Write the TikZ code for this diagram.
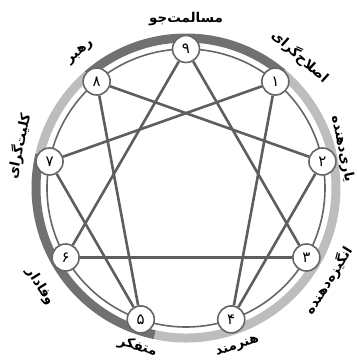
\documentclass[tikz,border=0pt]{standalone}
\usepackage{fontspec}
\newfontfamily\fa[Script=Arabic]{DejaVu Sans}
\TeXXeTstate=1
\definecolor{banddark}{HTML}{717171}
\definecolor{bandlight}{HTML}{BDBDBD}
\definecolor{ringgray}{HTML}{666666}
\definecolor{linegray}{HTML}{5E5E5E}
\begin{document}
\begin{tikzpicture}[x=1pt,y=1pt,
  pt/.style={circle,draw=ringgray,line width=1.6pt,fill=white,minimum size=27pt,inner sep=0pt,font=\fa\fontsize{15}{15}\selectfont},
  lbl/.style={font=\fa\bfseries\fontsize{13.5}{14}\selectfont,inner sep=0pt},
  edge/.style={draw=linegray,line width=2.6pt},
  band/.style={line width=9pt}]
\useasboundingbox (0,0) rectangle (357,360);
\begin{scope}[shift={(186,172)}]
  % outer band
  \draw[band,banddark] (50:150) arc[start angle=50,end angle=131,radius=150];
  \draw[band,bandlight] (131:150) arc[start angle=131,end angle=167,radius=150];
  \draw[band,banddark] (167:150) arc[start angle=167,end angle=258,radius=150];
  \draw[band,bandlight] (258:150) arc[start angle=258,end angle=410,radius=150];
  % thin ring
  \draw[ringgray,line width=1.6pt] (0,0) circle[radius=139];
  % points
  \node[pt] (n9) at (90:139) {۹};
  \node[pt] (n1) at (50:139) {۱};
  \node[pt] (n2) at (11:139) {۲};
  \node[pt] (n3) at (-30:139) {۳};
  \node[pt] (n4) at (-71:139) {۴};
  \node[pt] (n5) at (-109:139) {۵};
  \node[pt] (n6) at (-150:139) {۶};
  \node[pt] (n7) at (169:139) {۷};
  \node[pt] (n8) at (130:139) {۸};
  % connectors
  \draw[edge] (n9) -- (n3);
  \draw[edge] (n3) -- (n6);
  \draw[edge] (n6) -- (n9);
  \draw[edge] (n1) -- (n4);
  \draw[edge] (n4) -- (n2);
  \draw[edge] (n2) -- (n8);
  \draw[edge] (n8) -- (n5);
  \draw[edge] (n5) -- (n7);
  \draw[edge] (n7) -- (n1);
  % labels
  \node[lbl] (l9) at (90:169) {\beginR مسالمت‌جو\endR};
  \node[lbl,rotate=-42] (l1) at (49:174) {\beginR اصلاح‌گرای\endR};
  \node[lbl,rotate=-78] (l2) at (14:161) {\beginR یاری‌دهنده\endR};
  \node[lbl,rotate=58] (l3) at (-33:170) {\beginR انگیزه‌دهنده\endR};
  \node[lbl,rotate=19] (l4) at (-72:167) {\beginR هنرمند\endR};
  \node[lbl,rotate=-17] (l5) at (-107:166) {\beginR متفکر\endR};
  \node[lbl,rotate=-58] (l6) at (-146:176) {\beginR وفادار\endR};
  \node[lbl,rotate=78] (l7) at (166:172) {\beginR کلیت‌گرای\endR};
  \node[lbl,rotate=40] (l8) at (128:172) {\beginR رهبر\endR};
\end{scope}
\end{tikzpicture}
\end{document}
